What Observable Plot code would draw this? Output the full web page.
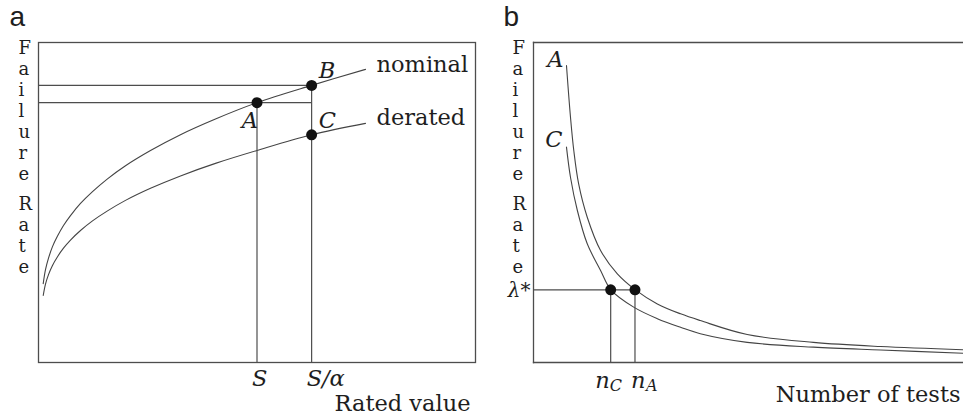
<!DOCTYPE html>
<html><head><meta charset="utf-8">
<script src="https://cdn.jsdelivr.net/npm/d3@7"></script>
<script src="https://cdn.jsdelivr.net/npm/@observablehq/plot@0.6"></script>
<style>
html,body{margin:0;padding:0;background:#fff;}
#fig{position:relative;width:963px;height:418px;overflow:hidden;background:#fff;}
#fig svg{position:absolute;top:0;}
</style></head><body><div id="fig"></div>
<script>
// ---------- Panel a data (abstract units 0..100) ----------
const nominalX = [1.08, 1.6, 2.29, 3.2, 4.35, 5.72, 7.32, 9.61, 12.36, 15.79, 19.91, 25.63, 32.49, 40.5, 50.0, 62.5, 74.83];
const nominalY = [24.66, 29.0, 32.6, 36.2, 39.5, 42.8, 45.9, 49.7, 53.4, 57.4, 61.5, 66.25, 71.2, 76.1, 81.2, 86.6, 91.6];
const deratedX = [1.08, 1.6, 2.29, 3.2, 4.35, 5.72, 7.32, 9.61, 12.36, 15.79, 19.91, 25.63, 32.49, 40.5, 50.0, 62.5, 74.83];
const deratedY = [20.94, 24.5, 27.47, 30.34, 33.06, 35.72, 38.25, 41.25, 44.25, 47.38, 50.66, 54.44, 58.31, 62.22, 66.25, 71.16, 74.72];
const pointNames = ["A", "B", "C"];
const pointX = [50.0, 62.5, 62.5];
const pointY = [81.2, 86.6, 71.16];
const ratedTicks = ["S", "S/α"];
const ratedTickX = [50.0, 62.5];

// ---------- Panel b data ----------
const testsX = [7.67, 8.6, 9.37, 10.5, 12.5, 15.6, 19.5, 23.7, 28.8, 34.2, 38.8, 49.7, 65.1, 80.7, 100];
const curveAY = [92.8, 76.7, 66.25, 55.8, 45.4, 35.0, 27.7, 22.7, 18.3, 15.2, 13.1, 8.75, 6.3, 5.0, 4.0];
const testsXC = [7.67, 8.6, 10.2, 12.5, 15.6, 18.0, 23.3, 28.8, 34.2, 38.8, 49.7, 65.1, 80.7, 100];
const curveCY = [67.3, 57.9, 47.5, 37.1, 28.75, 22.7, 17.3, 13.7, 11.0, 9.0, 6.3, 4.8, 3.9, 2.9];
const lambdaStar = 22.7;
const nNames = ["C", "A"];
const nX = [17.95, 23.6];

const SERIF = "DejaVu Serif";
const FS = 22.5;
const FSY = 18;
const INK = "#1e1e1e";
const LINE = "#4d4d4d";

const zip = (xs, ys) => xs.map((x, i) => ({x, y: ys[i]}));
const nominal = zip(nominalX, nominalY);
const derated = zip(deratedX, deratedY);
const pts = pointNames.map((name, i) => ({name, x: pointX[i], y: pointY[i]}));
const [pA, pB, pC] = pts;
const ticksA = ratedTicks.map((t, i) => ({t, x: ratedTickX[i]}));

const common = {
  x: {domain: [0, 100], axis: null},
  y: {domain: [0, 100], axis: null},
  style: {fontFamily: SERIF, fontSize: FS + "px", background: "transparent", overflow: "visible", color: INK}
};

const txt = (data, o) => Plot.text(data, {fontFamily: SERIF, fontSize: FS, fill: INK, lineAnchor: "bottom", ...o});
const vlabel = (s, dx, dy) => Plot.text([s], {frameAnchor: "top-left", fontFamily: SERIF, fontSize: FSY, fill: INK, lineAnchor: "top", lineHeight: 21 / FSY, dx, dy});

const plotA = Plot.plot({
  ...common,
  width: 480, height: 418,
  marginLeft: 38, marginRight: 5, marginTop: 42, marginBottom: 56,
  marks: [
    Plot.frame({stroke: LINE, strokeWidth: 1.3}),
    Plot.line(nominal, {x: "x", y: "y", curve: "catmull-rom", stroke: "#444", strokeWidth: 1.1}),
    Plot.line(derated, {x: "x", y: "y", curve: "catmull-rom", stroke: "#444", strokeWidth: 1.1}),
    Plot.ruleY([pB], {y: "y", x1: 0, x2: "x", stroke: LINE, strokeWidth: 1.2}),
    Plot.ruleY([pA], {y: "y", x1: 0, x2: pB.x, stroke: LINE, strokeWidth: 1.2}),
    Plot.ruleX([pA, pB], {x: "x", y1: 0, y2: "y", stroke: LINE, strokeWidth: 1.2}),
    Plot.dot(pts, {x: "x", y: "y", r: 5.5, fill: "#111", stroke: null}),
    txt([pA], {x: "x", y: "y", text: "name", fontStyle: "italic", textAnchor: "end", dx: 1, dy: 25}),
    txt([pB, pC], {x: "x", y: "y", text: "name", fontStyle: "italic", textAnchor: "start", dx: 7, dy: -7}),
    txt([nominal[nominal.length - 1]], {x: "x", y: "y", text: () => "nominal", textAnchor: "start", dx: 11, dy: 3}),
    txt([derated[derated.length - 1]], {x: "x", y: "y", text: () => "derated", textAnchor: "start", dx: 11, dy: 1.5}),
    txt(ticksA, {x: "x", y: 0, text: "t", fontStyle: "italic", textAnchor: "start", dx: -5, dy: 23}),
    txt(["Rated value"], {frameAnchor: "bottom-right", textAnchor: "end", dx: -5, dy: 48}),
    vlabel("F\na\ni\nl\nu\nr\ne", -20, -3),
    vlabel("R\na\nt\ne", -20, 153),
    Plot.text(["a"], {frameAnchor: "top-left", fontFamily: "Liberation Sans", fontSize: 28, fill: INK, textAnchor: "start", lineAnchor: "bottom", dx: -29, dy: -17})
  ]
});
plotA.style.left = "0px";

const curveA = zip(testsX, curveAY);
const curveC = zip(testsXC, curveCY);
const nPts = nNames.map((s, i) => ({s, x: nX[i]}));

const plotB = Plot.plot({
  ...common,
  width: 483, height: 418,
  marginLeft: 53, marginRight: 0, marginTop: 42, marginBottom: 56,
  marks: [
    Plot.frame({anchor: "left", stroke: LINE, strokeWidth: 1.3}),
    Plot.frame({anchor: "top", stroke: LINE, strokeWidth: 1.3}),
    Plot.frame({anchor: "bottom", stroke: LINE, strokeWidth: 1.3}),
    Plot.line(curveA, {x: "x", y: "y", curve: "catmull-rom", stroke: "#444", strokeWidth: 1.1}),
    Plot.line(curveC, {x: "x", y: "y", curve: "catmull-rom", stroke: "#444", strokeWidth: 1.1}),
    Plot.ruleY([lambdaStar], {x1: 0, x2: nX[1], stroke: LINE, strokeWidth: 1.2}),
    Plot.ruleX(nPts, {x: "x", y1: 0, y2: lambdaStar, stroke: LINE, strokeWidth: 1.2}),
    Plot.dot(nPts, {x: "x", y: lambdaStar, r: 5.5, fill: "#111", stroke: null}),
    txt([curveA[0]], {x: "x", y: "y", text: () => "A", fontStyle: "italic", textAnchor: "end", dx: -3, dy: 1}),
    txt([curveC[0]], {x: "x", y: "y", text: () => "C", fontStyle: "italic", textAnchor: "end", dx: -4, dy: 0}),
    txt([lambdaStar], {x: 0, y: d => d, text: () => "λ*", fontStyle: "italic", fontSize: 20, textAnchor: "end", lineAnchor: "middle", dx: -3, dy: 1}),
    txt([nPts[0]], {x: "x", y: 0, text: () => "n", fontStyle: "italic", textAnchor: "end", dx: -1, dy: 25}),
    txt([nPts[0]], {x: "x", y: 0, text: "s", fontStyle: "italic", fontSize: 16, textAnchor: "start", dx: -1, dy: 28}),
    txt([nPts[1]], {x: "x", y: 0, text: () => "n", fontStyle: "italic", textAnchor: "start", dx: -4, dy: 25}),
    txt([nPts[1]], {x: "x", y: 0, text: "s", fontStyle: "italic", fontSize: 16, textAnchor: "start", dx: 11, dy: 28}),
    txt(["Number of tests"], {frameAnchor: "bottom-right", textAnchor: "end", dx: -3, dy: 39}),
    vlabel("F\na\ni\nl\nu\nr\ne", -21, -3),
    vlabel("R\na\nt\ne", -21, 153),
    Plot.text(["b"], {frameAnchor: "top-left", fontFamily: "Liberation Sans", fontSize: 28, fill: INK, textAnchor: "start", lineAnchor: "bottom", dx: -30, dy: -17})
  ]
});
plotB.style.left = "480px";

const fig = document.getElementById("fig");
fig.appendChild(plotA);
fig.appendChild(plotB);
</script>
</body></html>
